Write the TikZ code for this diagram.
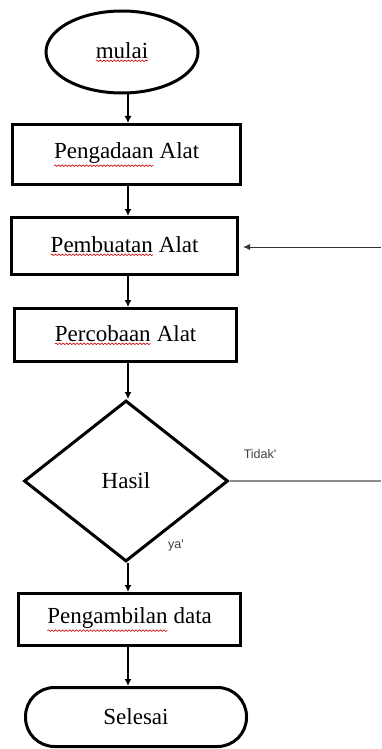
\documentclass[tikz,border=0pt]{standalone}
\usepackage{fontspec}
\setmainfont{Liberation Serif}
\newfontfamily\labsans{Liberation Sans}
\usetikzlibrary{shapes.geometric,arrows.meta,decorations.pathmorphing}
\tikzset{sqnode/.style={shape=rectangle,inner sep=0pt,outer sep=0pt,draw=none,minimum width=0pt,minimum height=0pt,rounded corners=0pt}}
\newcommand\sqw[1]{\tikz[x=1pt,y=1pt,baseline=(w.base)]{\node[sqnode](w){#1};\draw[red!80!black,line width=0.6pt,rounded corners=0pt,decorate,decoration={snake,amplitude=0.8pt,segment length=3.5pt}]([yshift=-2.5pt]w.south west)--([yshift=-2.5pt]w.south east);}}
\tikzset{
  blk/.style={draw=black,line width=3pt,rectangle,inner sep=0pt,font=\fontsize{23}{26}\selectfont},
  term/.style={draw=black,line width=3pt,inner sep=0pt,font=\fontsize{23}{26}\selectfont},
  flow/.style={draw=black,line width=1.3pt,-{Latex[length=7pt,width=7pt]}},
  lab/.style={font=\labsans\fontsize{12.5}{14}\selectfont,text=black!75,inner sep=0pt}
}
\begin{document}
\begin{tikzpicture}[x=1pt,y=-1pt]
\useasboundingbox[fill=white] (0,0) rectangle (382,749);
\node[term,ellipse,minimum width=152pt,minimum height=82pt] (start) at (122,52) {\sqw{mulai}};
\node[blk,minimum width=228pt,minimum height=60pt] (b1) at (126.5,154.5) {\sqw{Pengadaan} Alat};
\node[blk,minimum width=226pt,minimum height=57pt] (b2) at (124.5,246) {\sqw{Pembuatan} Alat};
\node[blk,minimum width=222pt,minimum height=53pt] (b3) at (125.5,335) {\sqw{Percobaan} Alat};
\node[term,diamond,minimum width=204pt,minimum height=161pt] (d) at (126,481) {Hasil};
\node[blk,minimum width=222pt,minimum height=52pt] (b4) at (129.5,619.5) {\sqw{Pengambilan} data};
\node[term,rounded corners=29pt,minimum width=221pt,minimum height=59pt] (end) at (136,717) {Selesai};
\coordinate (fb) at (381,247);
\coordinate (no) at (381,481);
\draw[flow] (start.south-|128,0) -- (b1.north-|128,0);
\draw[flow] (b1.south-|128,0) -- (b2.north-|128,0);
\draw[flow] (b2.south-|128,0) -- (b3.north-|128,0);
\draw[flow] (b3.south-|128,0) -- (d.north-|128,0);
\draw[flow] (d.south-|128,0) -- (b4.north-|128,0);
\draw[flow] (b4.south-|128,0) -- (end.north-|128,0);
\draw[line width=0.9pt,black!80,-{Latex[length=7pt,width=6pt]},shorten >=4pt] (fb) -- (fb-|b2.east);
\draw[line width=1.5pt,black!45] (d.east) -- (no);
\node[lab] (tidak) at (260,454) {Tidak'};
\node[lab] (ya) at (176,545) {ya'};
\end{tikzpicture}
\end{document}
